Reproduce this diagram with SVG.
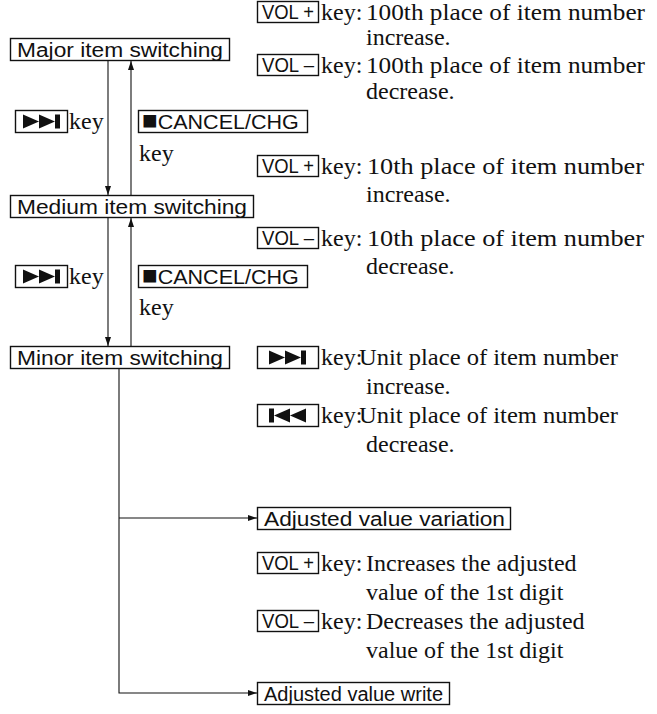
<svg xmlns="http://www.w3.org/2000/svg" width="657" height="714" viewBox="0 0 657 714">
<defs>
<marker id="ah" markerWidth="9" markerHeight="6" refX="9" refY="3" orient="auto" markerUnits="userSpaceOnUse">
<path d="M0,0 L9,3 L0,6 Z" fill="#111"/>
</marker>
<g id="ffIcon"><path d="M0,-7 L16,0 L0,7 Z M16,-7 L32,0 L16,7 Z"/><rect x="32" y="-7" width="5" height="14"/></g>
<g id="rwIcon"><rect x="0" y="-7" width="5" height="14"/><path d="M21,-7 L5,0 L21,7 Z M37,-7 L21,0 L37,7 Z"/></g>
<style>
.box{fill:#fff;stroke:#111;stroke-width:1.4}
.sans{font-family:"Liberation Sans",Arial,sans-serif;font-size:20px;fill:#111}
.serif{font-family:"Liberation Serif","Times New Roman",serif;font-size:24px;fill:#111}
.line{stroke:#111;stroke-width:1.1;fill:none}
.icon{fill:#111}
</style>
</defs>
<rect width="657" height="714" fill="#fff"/>

<g id="connectors">
<path class="line" d="M108,61 V195" marker-end="url(#ah)"/>
<path class="line" d="M131,195 V61" marker-end="url(#ah)"/>
<path class="line" d="M108,218 V346" marker-end="url(#ah)"/>
<path class="line" d="M131,346 V218" marker-end="url(#ah)"/>
<path class="line" d="M119,369 V693 H257" marker-end="url(#ah)"/>
<path class="line" d="M119,518 H257" marker-end="url(#ah)"/>
</g>

<g id="major">
<rect class="box" x="10.5" y="38.5" width="219" height="22"/>
<text class="sans" x="17" y="57" textLength="206" lengthAdjust="spacingAndGlyphs">Major item switching</text>
</g>
<g id="medium">
<rect class="box" x="10.5" y="195.5" width="243" height="22"/>
<text class="sans" x="17" y="214" textLength="230" lengthAdjust="spacingAndGlyphs">Medium item switching</text>
</g>
<g id="minor">
<rect class="box" x="10.5" y="346.5" width="219" height="22"/>
<text class="sans" x="17" y="365" textLength="206" lengthAdjust="spacingAndGlyphs">Minor item switching</text>
</g>
<g id="variation">
<rect class="box" x="257.5" y="507.5" width="253" height="22"/>
<text class="sans" x="264" y="526" textLength="241" lengthAdjust="spacingAndGlyphs">Adjusted value variation</text>
</g>
<g id="write">
<rect class="box" x="257.5" y="682.5" width="192" height="22"/>
<text class="sans" x="264" y="701" textLength="179" lengthAdjust="spacingAndGlyphs">Adjusted value write</text>
</g>

<g id="label-ff1">
<rect class="box" x="15.5" y="110.5" width="52" height="22"/>
<use href="#ffIcon" x="23" y="121.5" class="icon"/>
<text class="serif" x="69" y="129">key</text>
</g>
<g id="label-cancel1">
<rect class="box" x="138.5" y="110.5" width="169" height="22"/>
<text class="sans" x="142" y="129"><tspan font-size="26">■</tspan><tspan textLength="141" lengthAdjust="spacingAndGlyphs">CANCEL/CHG</tspan></text>
<text class="serif" x="139" y="161">key</text>
</g>
<g id="label-ff2">
<rect class="box" x="15.5" y="265.5" width="52" height="22"/>
<use href="#ffIcon" x="23" y="276.5" class="icon"/>
<text class="serif" x="69" y="284">key</text>
</g>
<g id="label-cancel2">
<rect class="box" x="138.5" y="265.5" width="169" height="22"/>
<text class="sans" x="142" y="284"><tspan font-size="26">■</tspan><tspan textLength="141" lengthAdjust="spacingAndGlyphs">CANCEL/CHG</tspan></text>
<text class="serif" x="139" y="315">key</text>
</g>

<g id="major-keys">
<rect class="box" x="257.5" y="1.5" width="61" height="21"/>
<text class="sans" x="262" y="19" textLength="52" lengthAdjust="spacingAndGlyphs">VOL +</text>
<text class="serif" x="321" y="20">key:</text>
<text class="serif" x="366" y="20" textLength="279" lengthAdjust="spacingAndGlyphs">100th place of item number</text>
<text class="serif" x="366" y="45">increase.</text>
<rect class="box" x="257.5" y="54.5" width="61" height="21"/>
<text class="sans" x="262" y="72" textLength="52" lengthAdjust="spacingAndGlyphs">VOL –</text>
<text class="serif" x="321" y="73">key:</text>
<text class="serif" x="366" y="73" textLength="279" lengthAdjust="spacingAndGlyphs">100th place of item number</text>
<text class="serif" x="366" y="99">decrease.</text>
</g>

<g id="medium-keys">
<rect class="box" x="257.5" y="155.5" width="61" height="21"/>
<text class="sans" x="262" y="173" textLength="52" lengthAdjust="spacingAndGlyphs">VOL +</text>
<text class="serif" x="321" y="174">key:</text>
<text class="serif" x="367" y="174" textLength="277" lengthAdjust="spacingAndGlyphs">10th place of item number</text>
<text class="serif" x="366" y="202">increase.</text>
<rect class="box" x="257.5" y="227.5" width="61" height="21"/>
<text class="sans" x="262" y="245" textLength="52" lengthAdjust="spacingAndGlyphs">VOL –</text>
<text class="serif" x="321" y="246">key:</text>
<text class="serif" x="367" y="246" textLength="277" lengthAdjust="spacingAndGlyphs">10th place of item number</text>
<text class="serif" x="366" y="274">decrease.</text>
</g>

<g id="minor-keys">
<rect class="box" x="257.5" y="346.5" width="61" height="22"/>
<use href="#ffIcon" x="269" y="357.5" class="icon"/>
<text class="serif" x="321" y="365">key:</text>
<text class="serif" x="359" y="365" textLength="259" lengthAdjust="spacingAndGlyphs">Unit place of item number</text>
<text class="serif" x="366" y="394">increase.</text>
<rect class="box" x="257.5" y="404.5" width="61" height="22"/>
<use href="#rwIcon" x="269" y="415.5" class="icon"/>
<text class="serif" x="321" y="423">key:</text>
<text class="serif" x="359" y="423" textLength="259" lengthAdjust="spacingAndGlyphs">Unit place of item number</text>
<text class="serif" x="366" y="452">decrease.</text>
</g>

<g id="variation-keys">
<rect class="box" x="257.5" y="552.5" width="61" height="21"/>
<text class="sans" x="262" y="570" textLength="52" lengthAdjust="spacingAndGlyphs">VOL +</text>
<text class="serif" x="321" y="571">key:</text>
<text class="serif" x="366" y="571">Increases the adjusted</text>
<text class="serif" x="366" y="600">value of the 1st digit</text>
<rect class="box" x="257.5" y="610.5" width="61" height="21"/>
<text class="sans" x="262" y="628" textLength="52" lengthAdjust="spacingAndGlyphs">VOL –</text>
<text class="serif" x="321" y="629">key:</text>
<text class="serif" x="366" y="629">Decreases the adjusted</text>
<text class="serif" x="366" y="658">value of the 1st digit</text>
</g>
</svg>
